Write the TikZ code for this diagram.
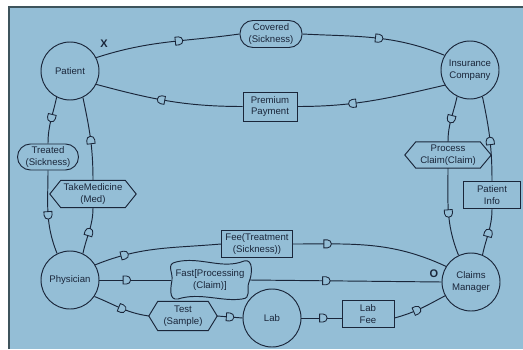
\documentclass[tikz,border=0pt]{standalone}
\usepackage{fontspec}
\setmainfont{Liberation Sans}
\usetikzlibrary{decorations.markings}
\definecolor{bgblue}{RGB}{148,190,214}
\definecolor{ink}{RGB}{26,38,58}
\definecolor{framecol}{RGB}{62,84,92}
% D-shaped flow marker, bulge pointing along the path
\newcommand\dmark{\draw[ink, fill=bgblue, line width=0.85pt] (-3.5pt,-4pt) -- (-3.5pt,4pt) -- (0pt,4pt) arc[start angle=90,end angle=-90,radius=4pt] -- cycle;}
% hexagonal outline around a (borderless) node
\newcommand\hexoutline[2]{\draw[link] (#1.west) -- ([xshift=#2]#1.north west) -- ([xshift=-#2]#1.north east) -- (#1.east) -- ([xshift=-#2]#1.south east) -- ([xshift=#2]#1.south west) -- cycle;}
\tikzset{
  link/.style={draw=ink, line width=0.95pt},
  txt/.style={text=ink, font=\fontsize{9.6}{11.8}\selectfont, align=center, inner sep=0pt},
  actor/.style={txt, circle, link, minimum size=58pt},
  box/.style={txt, rectangle, link},
  pill/.style={txt, rectangle, link, rounded corners=13pt},
  hexnode/.style={txt, rectangle},
  flow/.style={link, postaction={decorate, decoration={markings, mark=at position #1 with {\dmark}}}},
  flow/.default=0.5
}
\begin{document}
\begin{tikzpicture}[x=1pt,y=1pt]
\useasboundingbox (0,0) rectangle (523,349);
% panel
\fill[white] (0,0) rectangle (523,349);
\fill[bgblue] (9,0) rectangle (523,342);
\draw[framecol, line width=1.6pt] (9,0) -- (9,342) -- (523,342);

% actors
\node[actor] (patient) at (70,278) {Patient};
\node[actor] (insurer) at (470,279) {Insurance\\Company};
\node[actor] (physician) at (70,69) {Physician};
\node[actor] (claims) at (471,67) {Claims\\Manager};
\node[actor] (lab) at (272,31) {Lab};

% messages
\node[pill, minimum width=62pt, minimum height=27pt] (covered) at (271,315) {Covered\\(Sickness)};
\node[box, minimum width=54pt, minimum height=29pt] (premium) at (270,242.5) {Premium\\Payment};
\node[pill, minimum width=61pt, minimum height=26pt] (treated) at (48,192) {Treated\\(Sickness)};
\node[hexnode, minimum width=86pt, minimum height=27pt] (takemed) at (93,155) {TakeMedicine\\(Med)};
\node[hexnode, minimum width=86pt, minimum height=26pt] (process) at (448,194) {Process\\Claim(Claim)};
\node[box, minimum width=57pt, minimum height=27pt] (pinfo) at (492,154) {Patient\\Info};
\node[box, minimum width=71pt, minimum height=27pt] (fee) at (257,105) {Fee(Treatment\\(Sickness))};
\node[hexnode, minimum width=78pt, minimum height=38pt] (fast) at (210,69) {Fast[Processing\\(Claim)]};
\node[hexnode, minimum width=68pt, minimum height=29pt] (test) at (183,33) {Test\\(Sample)};
\node[box, minimum width=52pt, minimum height=27pt] (labfee) at (368,35) {Lab\\Fee};

\hexoutline{takemed}{11pt}
\hexoutline{process}{11pt}
\hexoutline{test}{9pt}

% wavy outline of the fast-processing message
\begin{scope}[shift={(fast.center)}]
\draw[link] (-34,18) .. controls (-10,24) and (12,10) .. (34,19)
  .. controls (44,22) and (42,4) .. (39,-2)
  .. controls (36,-10) and (42,-18) .. (32,-19)
  .. controls (12,-22) and (-10,-12) .. (-32,-19)
  .. controls (-42,-21) and (-39,-6) .. (-38,0)
  .. controls (-37,8) and (-44,16) .. (-34,18) -- cycle;
\end{scope}

% markers
\node[txt, font=\fontsize{11}{12}\selectfont\bfseries] (xmark) at (104,305) {X};
\node[txt, font=\fontsize{11}{12}\selectfont\bfseries] (omark) at (434,75) {O};

% upper loop
\draw[flow=0.58] (patient.27) to[out=18, in=188] (covered.west);
\draw[flow=0.53] (covered.east) to[out=-3, in=158] (insurer.150);
\draw[flow=0.63] (insurer.211) to[out=193, in=0] (premium.east);
\draw[flow=0.55] (premium.west) to[out=180, in=-15] (patient.-27);

% left side
\draw[flow=0.45] (patient.243) to[out=258, in=90] (treated.north);
\draw[flow=0.53] (treated.south) to[out=270, in=112] (physician.116);
\draw[flow=0.47] (physician.64) to[out=78, in=-90] (takemed.south);
\draw[flow=0.48] (takemed.north) to[out=90, in=-78] (patient.-64);

% right side
\draw[flow=0.5] (insurer.244) to[out=258, in=90] (process.north);
\draw[flow=0.51] (process.south) to[out=270, in=112] (claims.115);
\draw[flow=0.48] (claims.67) to[out=78, in=-90] (pinfo.south);
\draw[flow=0.47] (pinfo.north) to[out=90, in=-78] (insurer.-65);

% lower flows
\draw[flow=0.24] (physician.31) to[out=22, in=185] (fee.west);
\draw[flow=0.22] (fee.east) to[out=0, in=155] (claims.148);
\draw[flow=0.38] (physician.east) -- (fast.west);
\draw[flow=0.4] (fast.east) -- (claims.west);
\draw[flow=0.52] (physician.-34) to[out=-22, in=172] (test.west);
\draw[flow=0.5] (test.east) -- (lab.west);
\draw[flow=0.54] (lab.east) -- (labfee.west |- lab.east);
\draw[flow=0.43] ([yshift=-4pt]labfee.east) to[out=15, in=208] (claims.208);
\end{tikzpicture}
\end{document}
